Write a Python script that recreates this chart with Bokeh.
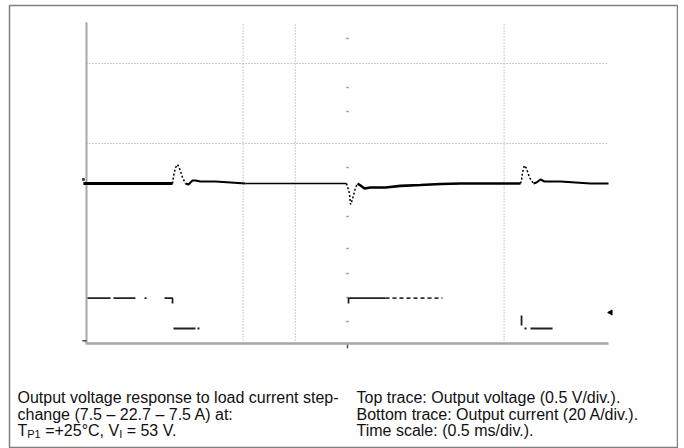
import numpy as np
from bokeh.plotting import figure
from bokeh.models import Range1d
from bokeh.core.properties import value
from bokeh.embed import file_html
from bokeh.resources import INLINE

# ---- oscilloscope settings ----
time_per_div_ms = 0.5
volt_per_div = 0.5
amp_per_div = 20.0
n_hdiv = 10
n_vdiv = 8
current_ground_div = -4.0

# ---- top trace: output voltage deviation (V) vs time (ms) ----
v_time = [-0.03, 0.824, 0.833, 0.853, 0.872, 0.891, 0.920, 0.948, 0.977, 1.015, 1.044,
          1.092, 1.236, 1.379, 1.523, 2.490, 2.500, 2.519, 2.529, 2.538, 2.557, 2.577,
          2.596, 2.625, 2.663, 2.720, 2.864, 3.008, 3.199, 3.391, 3.582, 4.157, 4.167,
          4.176, 4.195, 4.215, 4.243, 4.282, 4.310, 4.349, 4.387, 4.540, 4.684, 4.828, 5.0]
v_dev = [0.0, 0.0, 0.0875, 0.20, 0.2375, 0.1875, 0.075, 0.0, -0.0125, 0.0375, 0.0375,
         0.025, 0.025, 0.0125, 0.0, 0.0, -0.0375, -0.125, -0.2625, -0.2375, -0.15, -0.05,
         0.0, -0.025, -0.0625, -0.05, -0.05, -0.03, -0.019, -0.006, 0.0, 0.0, 0.0375,
         0.1375, 0.225, 0.1875, 0.075, 0.0, 0.0125, 0.05, 0.025, 0.025, 0.0125, 0.0, 0.0]

# ---- bottom trace: output current (A) vs time (ms); NaN = trace not visible ----
nan = float("nan")
i_time = [0.01, 0.230, nan, 0.259, 0.469, nan, 0.556, 0.575, nan, 0.747, 0.824, 0.824, nan,
          0.833, 1.044, nan, 1.063, 1.082, nan, 2.510, 2.510, 2.864, nan,
          4.167, 4.167, nan, 4.195, 4.215, nan, 4.253, 4.464]
i_amp = [22.7, 22.7, nan, 22.7, 22.7, nan, 22.7, 22.7, nan, 22.7, 22.7, 20.0, nan,
         7.5, 7.5, nan, 7.5, 7.5, nan, 20.0, 22.7, 22.7, nan,
         14.0, 9.0, nan, 7.5, 7.5, nan, 7.5, 7.5]
i_dash_time = [2.864, 3.410]
i_dash_amp = [22.7, 22.7]

# ---- graticule ----
grid_x_ms = [1.5, 2.0, 4.0]
grid_y_div = [1.0, 3.0]
center_tick_div = [3.625, 2.4, 1.8, 0.4, -0.825, -1.625, -2.25, -2.85, -3.45]

# ---- captions ----
caption_left = ["Output voltage response to load current step-",
                "change (7.5 \u2013 22.7 \u2013 7.5 A) at:"]
caption_left3 = [("T", False), ("P1", True), ("\u00a0=+25\u00b0C, V", False), ("I", True), ("\u00a0= 53 V.", False)]
caption_right = ["Top trace: Output voltage (0.5 V/div.).",
                 "Bottom trace: Output current (20 A/div.).",
                 "Time scale: (0.5 ms/div.)."]

# ---- layout ----
t_end = n_hdiv * time_per_div_ms
y_top = n_vdiv / 2
px_per_ms = 104.4
px_per_div = 40.0
x0 = (9 - 86) / px_per_ms
x1 = (678 - 86) / px_per_ms
y1 = (183 - 5) / px_per_div
y0 = (183 - 448) / px_per_div

p = figure(width=678, height=448, output_backend="svg", toolbar_location=None,
           x_range=Range1d(x0, x1), y_range=Range1d(y0, y1),
           x_axis_location=None, y_axis_location=None,
           min_border_left=9, min_border_right=0, min_border_top=5, min_border_bottom=0)
p.grid.visible = False
p.outline_line_color = "#7f7f7f"
p.outline_line_width = 1.5
p.background_fill_color = "white"
p.border_fill_color = "white"

grid_col = "#9c9c9c"
# dotted graticule
p.segment(x0=grid_x_ms, x1=grid_x_ms, y0=[-y_top] * len(grid_x_ms), y1=[y_top] * len(grid_x_ms),
          line_color=grid_col, line_dash="1 2", line_width=1)
p.segment(x0=[0] * len(grid_y_div), x1=[t_end] * len(grid_y_div), y0=grid_y_div, y1=grid_y_div,
          line_color=grid_col, line_dash="1 2", line_width=1)
# centre tick marks
tc = t_end / 2
p.segment(x0=[tc - 0.012] * len(center_tick_div), x1=[tc + 0.012] * len(center_tick_div),
          y0=center_tick_div, y1=center_tick_div, line_color="#9a9a9a", line_width=1.5)
p.segment(x0=[tc], x1=[tc], y0=[-y_top], y1=[-y_top - 0.12], line_color="#555555", line_width=1.5)
# axis lines
p.segment(x0=[0], x1=[0], y0=[-y_top], y1=[y_top + 0.03], line_color="#a6a6a6", line_width=2)
p.segment(x0=[-0.01], x1=[t_end], y0=[-y_top], y1=[-y_top], line_color="#a6a6a6", line_width=2.5)

# voltage trace, drawn piecewise (thick noisy plateaus, sparse dotted transients)
v_y = [v / volt_per_div for v in v_dev]


def piece(lo, hi):
    pts = [(t, y) for t, y in zip(v_time, v_y) if lo - 1e-9 <= t <= hi + 1e-9]
    return [a for a, _ in pts], [b for _, b in pts]


styles = [  # (t_lo, t_hi, width, dash)
    (-1.0, 0.824, 3.0, "solid"),
    (0.824, 0.948, 1.5, "2 2"),
    (0.948, 1.523, 2.0, "solid"),
    (1.523, 2.490, 1.3, "solid"),
    (2.490, 2.596, 1.5, "2 2"),
    (2.596, 4.157, 2.6, "solid"),
    (4.157, 4.282, 1.5, "2 2"),
    (4.282, 5.0, 2.0, "solid"),
]
for lo, hi, w, d in styles:
    tx, ty = piece(lo, hi)
    p.line(tx, ty, line_color="black", line_width=w, line_dash=d)

# current trace
i_y = [current_ground_div + a / amp_per_div if a == a else nan for a in i_amp]
p.line(i_time, i_y, line_color="#222222", line_width=1.8)
p.line(i_dash_time, [current_ground_div + a / amp_per_div for a in i_dash_amp],
       line_color="#333333", line_width=1.8, line_dash="4 3")

# channel markers
p.scatter([-0.03], [0.1], marker="square", size=2, color="#444444")
p.scatter([-0.02], [current_ground_div + 0.07], marker="dash", size=4, color="#444444", line_width=1.5)
p.scatter([t_end + 0.02], [-3.225], marker="triangle", angle=np.pi / 2, size=5, color="black")

# captions
fs = 16
lh = 16.5 / px_per_div
ty0 = (183 - 397) / px_per_div
xl = (17 - 86) / px_per_ms
xr = (356 - 86) / px_per_ms
font = value("Liberation Sans")
p.text(x=[xl] * len(caption_left), y=[ty0 - k * lh for k in range(len(caption_left))],
       text=caption_left, text_font=font, text_font_size=f"{fs}px", text_baseline="middle",
       text_color="#111111")
p.text(x=[xr] * len(caption_right), y=[ty0 - k * lh for k in range(len(caption_right))],
       text=caption_right, text_font=font, text_font_size=f"{fs}px", text_baseline="middle",
       text_color="#111111")
# third left line with subscripts
widths = {"T": 0.611, "P1": 1.223, "\u00a0=+25\u00b0C, V": 4.903, "I": 0.278}
sub_fs = 11
xpos = xl
y3 = ty0 - 2 * lh
for part, sub in caption_left3:
    size = sub_fs if sub else fs
    p.text(x=[xpos], y=[y3 - (3 / px_per_div if sub else 0)], text=[part], text_font=font,
           text_font_size=f"{size}px", text_baseline="middle", text_color="#111111")
    xpos += widths.get(part, 0) * size / px_per_ms

open("out.html", "w").write(file_html(p, INLINE))
